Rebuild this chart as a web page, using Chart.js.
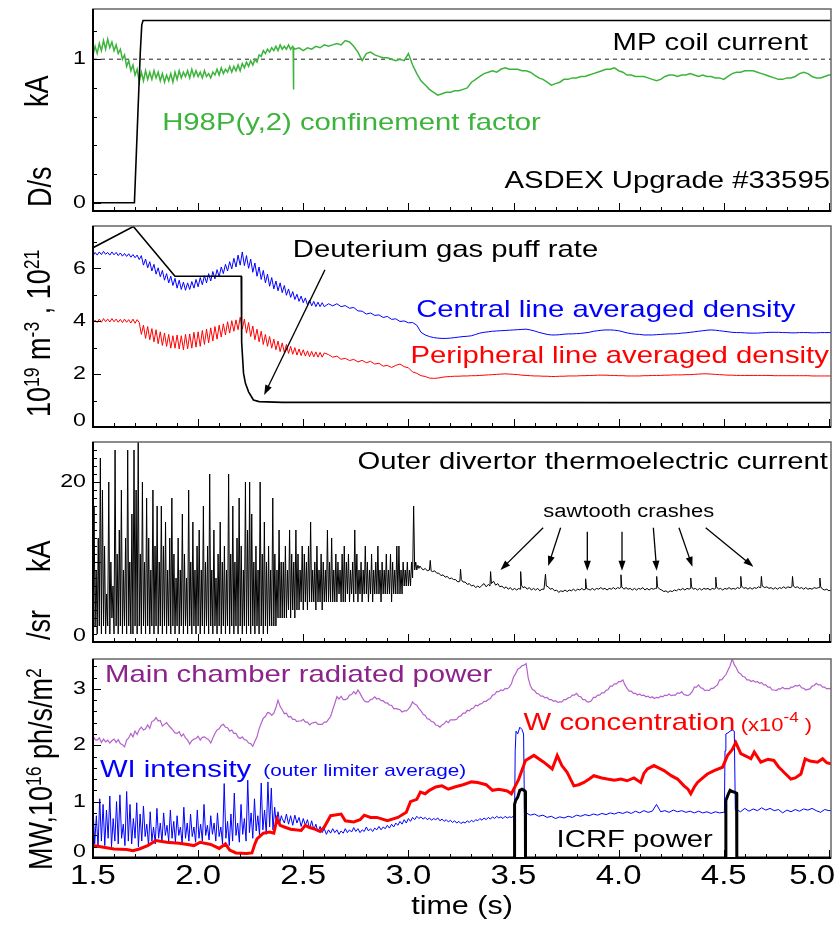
<!DOCTYPE html>
<html>
<head>
<meta charset="utf-8">
<script src="https://cdn.jsdelivr.net/npm/chart.js@4.4.0/dist/chart.umd.min.js"></script>
<style>
  body { margin: 0; background: #fff; width: 836px; height: 926px; position: relative; overflow: hidden;
         font-family: "Liberation Sans", Arial, sans-serif; }
  canvas { position: absolute; left: 0; }
  .yl { position: absolute; transform-origin: 0 0; transform: rotate(-90deg) scaleY(1.22);
        font-size: 27px; line-height: 27px; white-space: nowrap; color: #000; }
  .yl sup { font-size: 0.65em; position: relative; top: -0.5em; vertical-align: baseline; line-height: 0; }
</style>
</head>
<body>
<canvas id="p1"></canvas>
<canvas id="p2"></canvas>
<canvas id="p3"></canvas>
<canvas id="p4"></canvas>

<div class="yl" style="left:21px;top:107px">kA</div>
<div class="yl" style="left:24px;top:207px">D/s</div>
<div class="yl" style="left:23px;top:417px">10<sup>19</sup> m<sup>-3</sup> , 10<sup>21</sup></div>
<div class="yl" style="left:23px;top:572px">kA</div>
<div class="yl" style="left:23px;top:640px">/sr</div>
<div class="yl" style="left:25px;top:870px">MW,10<sup>16</sup> ph/s/m<sup>2</sup></div>

<script>
// ---- axis ticks ----
const xTickValues = [1.5, 2.0, 2.5, 3.0, 3.5, 4.0, 4.5, 5.0];
const xTickLabels = ['1.5', '2.0', '2.5', '3.0', '3.5', '4.0', '4.5', '5.0'];

// ---- panel 1: MP coil current (kA) and H98 ----
const coilT = [1.50, 1.697, 1.705, 1.715, 1.725, 1.732, 1.738, 5.01];
const coilV = [0.0, 0.0, 0.30, 0.68, 1.05, 1.24, 1.27, 1.27];
// H98 sampled every 0.01 s from 1.50 s
const h98Early = [
  1.03, 1.09, 1.04, 1.11, 1.06, 1.13, 1.07, 1.14, 1.08, 1.12,
  1.06, 1.10, 1.04, 1.07, 1.00, 1.03, 0.95, 0.99, 0.92, 0.96,
  0.89, 0.93, 0.84, 0.91, 0.85, 0.92, 0.86, 0.91, 0.86, 0.92,
  0.87, 0.91, 0.85, 0.90, 0.84, 0.89, 0.85, 0.90, 0.84, 0.91,
  0.86, 0.92, 0.87, 0.91, 0.88, 0.92, 0.87, 0.93, 0.88, 0.92,
  0.88, 0.91, 0.87, 0.92, 0.88, 0.90, 0.87, 0.91, 0.89, 0.93,
  0.89, 0.94, 0.90, 0.93, 0.91, 0.95, 0.91, 0.95, 0.92, 0.96,
  0.92, 0.97, 0.94, 0.98, 0.95, 0.99, 0.96, 1.00, 0.98, 1.03,
  1.02, 1.06, 1.04, 1.07, 1.05, 1.08, 1.06, 1.09, 1.06, 1.10,
  1.07, 1.09, 1.07, 1.10, 1.07, 1.09
];
const h98SpikeT = [2.452, 2.453, 2.455];
const h98SpikeV = [1.08, 0.79, 1.08];
// H98 sampled every 0.02 s from 2.46 s
const h98Late = [
  1.07, 1.08, 1.06, 1.08, 1.07, 1.09, 1.08, 1.10, 1.09, 1.10,
  1.11, 1.10, 1.13, 1.12, 1.09, 1.05, 0.99, 1.04, 1.05, 1.03,
  1.02, 1.01, 1.01, 1.00, 0.99, 1.00, 0.99, 1.04, 0.96, 0.90,
  0.85, 0.82, 0.79, 0.77, 0.75, 0.76, 0.77, 0.77, 0.78, 0.78,
  0.79, 0.80, 0.84, 0.86, 0.88, 0.90, 0.91, 0.92, 0.91, 0.93,
  0.94, 0.93, 0.93, 0.93, 0.92, 0.92, 0.91, 0.89, 0.87, 0.86,
  0.84, 0.82, 0.83, 0.84, 0.86, 0.86, 0.87, 0.87, 0.88, 0.88,
  0.89, 0.90, 0.91, 0.92, 0.93, 0.93, 0.94, 0.92, 0.91, 0.89,
  0.89, 0.88, 0.88, 0.88, 0.87, 0.86, 0.85, 0.86, 0.88, 0.89,
  0.89, 0.88, 0.89, 0.89, 0.90, 0.89, 0.88, 0.89, 0.88, 0.88,
  0.87, 0.87, 0.86, 0.88, 0.90, 0.91, 0.91, 0.92, 0.92, 0.92,
  0.91, 0.90, 0.89, 0.88, 0.87, 0.86, 0.86, 0.87, 0.87, 0.88,
  0.90, 0.91, 0.90, 0.88, 0.87, 0.87, 0.88, 0.89, 0.89
];

// ---- panel 2: gas puff (10^21 D/s) and densities (10^19 m^-3) ----
const gasT = [1.50, 1.692, 1.89, 2.205, 2.207, 2.216, 2.225, 2.24, 2.263, 2.29, 2.40, 3.00, 4.00, 5.01];
const gasV = [6.78, 7.58, 5.70, 5.70, 3.20, 2.03, 1.65, 1.33, 1.02, 0.96, 0.93, 0.93, 0.92, 0.92];
// central density, every 0.01 s from 1.50 s
const coreEarly = [
  6.48, 6.60, 6.50, 6.62, 6.52, 6.64, 6.53, 6.60, 6.50, 6.62,
  6.51, 6.60, 6.48, 6.58, 6.46, 6.56, 6.45, 6.55, 6.42, 6.52,
  6.40, 6.50, 6.33, 6.48, 6.12, 6.35, 6.02, 6.25, 5.90, 6.15,
  5.78, 6.02, 5.68, 5.92, 5.55, 5.80, 5.45, 5.70, 5.35, 5.62,
  5.25, 5.55, 5.20, 5.48, 5.17, 5.45, 5.20, 5.50, 5.25, 5.58,
  5.30, 5.65, 5.38, 5.72, 5.45, 5.80, 5.52, 5.88, 5.60, 5.95,
  5.68, 6.05, 5.80, 6.15, 5.90, 6.25, 5.98, 6.38, 6.05, 6.50,
  6.12, 6.62, 6.10, 6.48, 6.00, 6.35, 5.85, 6.20, 5.70, 6.05,
  5.58, 5.92, 5.45, 5.78, 5.32, 5.65, 5.22, 5.52, 5.15, 5.45,
  5.08, 5.35, 4.98, 5.22, 4.90, 5.12, 4.82, 5.02, 4.75, 4.95,
  4.70, 4.88, 4.62, 4.80, 4.58, 4.75, 4.55, 4.72, 4.55, 4.70,
  4.55
];
// central density, every 0.02 s from 2.62 s
const coreLate = [
  4.66, 4.58, 4.66, 4.55, 4.59, 4.49, 4.52, 4.39, 4.38, 4.27,
  4.31, 4.22, 4.24, 4.14, 4.18, 4.07, 4.09, 3.99, 4.01, 3.94,
  3.95, 3.85, 3.58, 3.48, 3.42, 3.38, 3.36, 3.35, 3.35, 3.36,
  3.38, 3.40, 3.42, 3.43, 3.45, 3.50, 3.55, 3.58, 3.60, 3.62,
  3.63, 3.64, 3.65, 3.66, 3.67, 3.68, 3.69, 3.70, 3.67, 3.63,
  3.58, 3.54, 3.50, 3.48, 3.48, 3.49, 3.51, 3.52, 3.52, 3.53,
  3.54, 3.56, 3.58, 3.62, 3.64, 3.66, 3.67, 3.67, 3.66, 3.64,
  3.60, 3.56, 3.53, 3.51, 3.50, 3.48, 3.48, 3.48, 3.49, 3.50,
  3.51, 3.52, 3.52, 3.53, 3.55, 3.56, 3.58, 3.60, 3.62, 3.64,
  3.66, 3.67, 3.66, 3.64, 3.62, 3.60, 3.58, 3.57, 3.57, 3.56,
  3.55, 3.55, 3.55, 3.56, 3.57, 3.58, 3.58, 3.58, 3.57, 3.57,
  3.56, 3.56, 3.57, 3.57, 3.57, 3.56, 3.56, 3.57, 3.57, 3.57,
  3.57
];
// peripheral density, every 0.01 s from 1.50 s
const edgeEarly = [
  3.92, 4.04, 3.95, 4.08, 3.96, 4.10, 3.98, 4.08, 3.97, 4.10,
  3.98, 4.08, 3.96, 4.07, 3.95, 4.08, 3.96, 4.06, 3.93, 4.08,
  3.92, 4.06, 3.95, 3.50, 3.85, 3.35, 3.80, 3.30, 3.72, 3.22,
  3.68, 3.15, 3.60, 3.08, 3.55, 3.05, 3.50, 2.98, 3.45, 2.98,
  3.48, 2.95, 3.45, 2.92, 3.50, 2.95, 3.52, 2.98, 3.58, 3.02,
  3.60, 3.05, 3.65, 3.12, 3.70, 3.18, 3.75, 3.25, 3.80, 3.32,
  3.85, 3.40, 3.90, 3.48, 3.98, 3.55, 4.02, 3.62, 4.05, 3.68,
  4.15, 3.70, 4.08, 3.55, 3.95, 3.42, 3.82, 3.30, 3.70, 3.22,
  3.62, 3.12, 3.50, 3.05, 3.42, 2.98, 3.32, 2.92, 3.25, 2.85,
  3.18, 2.82, 3.12, 2.78, 3.05, 2.75, 3.00, 2.72, 2.95, 2.70,
  2.92, 2.68, 2.88, 2.66, 2.86, 2.65, 2.84, 2.64, 2.82, 2.64,
  2.80
];
// peripheral density, every 0.02 s from 2.62 s
const edgeLate = [
  2.74, 2.64, 2.68, 2.56, 2.60, 2.51, 2.56, 2.46, 2.52, 2.43,
  2.48, 2.38, 2.41, 2.30, 2.33, 2.25, 2.33, 2.38, 2.28, 2.24,
  2.08, 2.03, 1.94, 1.91, 1.85, 1.84, 1.85, 1.88, 1.90, 1.91,
  1.92, 1.92, 1.93, 1.93, 1.94, 1.94, 1.95, 1.96, 1.97, 1.98,
  1.99, 2.00, 2.01, 2.00, 1.99, 1.98, 1.96, 1.95, 1.94, 1.93,
  1.93, 1.92, 1.92, 1.91, 1.91, 1.92, 1.92, 1.93, 1.93, 1.93,
  1.94, 1.94, 1.95, 1.95, 1.96, 1.96, 1.96, 1.95, 1.95, 1.94,
  1.94, 1.93, 1.93, 1.93, 1.93, 1.94, 1.94, 1.95, 1.95, 1.95,
  1.96, 1.96, 1.97, 1.97, 1.97, 1.98, 1.98, 1.99, 2.00, 2.01,
  2.01, 2.00, 1.99, 1.98, 1.97, 1.96, 1.96, 1.95, 1.95, 1.95,
  1.95, 1.95, 1.95, 1.95, 1.95, 1.95, 1.94, 1.94, 1.94, 1.94,
  1.94, 1.94, 1.94, 1.94, 1.94, 1.93, 1.93, 1.93, 1.93, 1.93,
  1.93
];

// ---- panel 3: outer divertor thermoelectric current (kA) ----
// every 0.005 s from 1.500 s to 3.040 s
const thermoEarly = [
  3, 17, 2, 9, 1, 13, 2, 23, 1, 19,
  2, 12, 1, 6, 2, 20, 1, 10, 3, 7,
  1, 24, 2, 11, 1, 14, 2, 19, 1, 9,
  2, 13, 1, 24, 2, 10, 1, 16, 1, 24,
  2, 19, 1, 25, 2, 11, 1, 20, 2, 10,
  1, 18, 2, 13, 1, 9, 2, 19, 1, 12,
  2, 17, 1, 10, 2, 17, 1, 12, 2, 15,
  1, 9, 2, 13, 1, 18, 2, 11, 1, 8,
  2, 13, 1, 9, 2, 16, 1, 11, 2, 8,
  1, 19, 2, 10, 1, 15, 2, 9, 1, 12,
  2, 14, 1, 9, 2, 17, 1, 10, 2, 12,
  1, 21, 2, 9, 1, 14, 2, 8, 1, 11,
  2, 15, 1, 10, 2, 12, 1, 9, 2, 21,
  1, 11, 2, 17, 1, 10, 2, 13, 1, 18,
  2, 12, 1, 9, 2, 20, 1, 14, 2, 20,
  1, 16, 2, 10, 1, 12, 2, 9, 1, 20,
  2, 11, 1, 15, 2, 10, 1, 12, 2, 9,
  2, 18, 2, 11, 2, 9, 3, 14, 3, 10,
  3, 10, 3, 12, 3, 9, 4, 14, 3, 11,
  4, 10, 3, 14, 4, 11, 4, 9, 5, 12,
  4, 11, 5, 10, 4, 12, 5, 15, 5, 9,
  5, 10, 4, 12, 5, 9, 5, 11, 4, 10,
  5, 9, 5, 14, 5, 10, 5, 13, 5, 9,
  5, 11, 5, 10, 6, 9, 5, 11, 5, 12,
  5, 10, 6, 11, 5, 9, 6, 10, 5, 14,
  6, 11, 5, 9, 6, 10, 5, 9, 6, 12,
  6, 10, 5, 9, 6, 11, 5, 9, 6, 10,
  6, 12, 6, 9, 5, 10, 6, 9, 6, 11,
  6, 9, 6, 11, 5, 10, 6, 9, 6, 12,
  6, 12, 6, 9, 6, 10, 7, 9, 7, 10,
  7, 9, 7, 10, 8, 17, 9, 10, 9
];
const thermoLateT = [
  3.045, 3.05, 3.055, 3.06, 3.07, 3.08, 3.09, 3.10, 3.104, 3.108, 3.115, 3.125, 3.135, 3.145, 3.155,
  3.165, 3.175, 3.185, 3.195, 3.205, 3.215, 3.225, 3.235, 3.245, 3.248, 3.252, 3.26, 3.27, 3.28, 3.29,
  3.30, 3.31, 3.32, 3.33, 3.34, 3.35, 3.36, 3.37, 3.38, 3.388, 3.391, 3.395, 3.405, 3.415, 3.425,
  3.435, 3.445, 3.455, 3.465, 3.475, 3.485, 3.495, 3.505, 3.515, 3.525, 3.531, 3.534, 3.538, 3.545, 3.555,
  3.565, 3.575, 3.585, 3.595, 3.605, 3.615, 3.625, 3.635, 3.645, 3.652, 3.656, 3.665, 3.675, 3.685, 3.695,
  3.705, 3.715, 3.725, 3.735, 3.745, 3.755, 3.765, 3.775, 3.785, 3.795, 3.805, 3.815, 3.825, 3.835, 3.841,
  3.843, 3.847, 3.855, 3.865, 3.875, 3.885, 3.895, 3.905, 3.915, 3.925, 3.935, 3.945, 3.955, 3.965, 3.975,
  3.985, 3.995, 4.005, 4.008, 4.011, 4.015, 4.025, 4.035, 4.045, 4.055, 4.065, 4.075, 4.085, 4.095, 4.105,
  4.115, 4.125, 4.135, 4.145, 4.155, 4.165, 4.175, 4.178, 4.181, 4.185, 4.195, 4.205, 4.215, 4.225, 4.235,
  4.245, 4.255, 4.265, 4.275, 4.285, 4.295, 4.305, 4.315, 4.325, 4.335, 4.34, 4.343, 4.347, 4.355, 4.365,
  4.375, 4.385, 4.395, 4.405, 4.415, 4.425, 4.435, 4.445, 4.455, 4.459, 4.462, 4.466, 4.475, 4.485, 4.495,
  4.505, 4.515, 4.525, 4.535, 4.545, 4.555, 4.565, 4.575, 4.578, 4.581, 4.585, 4.595, 4.605, 4.615, 4.625,
  4.635, 4.645, 4.655, 4.665, 4.673, 4.676, 4.679, 4.683, 4.695, 4.705, 4.715, 4.725, 4.735, 4.745, 4.755,
  4.765, 4.775, 4.785, 4.795, 4.805, 4.815, 4.824, 4.827, 4.831, 4.84, 4.85, 4.86, 4.87, 4.88, 4.89,
  4.90, 4.91, 4.92, 4.93, 4.94, 4.95, 4.954, 4.957, 4.961, 4.97, 4.98, 4.99, 5.00, 5.01
];
const thermoLateV = [
  9.6, 9.2, 9.5, 9.3, 9.0, 9.2, 8.9, 9.0, 10.2, 8.9, 8.8, 8.9, 8.6, 8.6, 8.3,
  8.4, 8.1, 8.2, 7.9, 8.0, 7.8, 7.8, 7.5, 7.6, 9.1, 7.8, 7.5, 7.5, 7.2, 7.3,
  7.0, 7.1, 6.8, 7.0, 6.8, 7.1, 7.3, 6.9, 7.2, 7.0, 8.8, 7.3, 7.6, 7.1, 7.3,
  6.9, 7.0, 6.7, 6.9, 6.6, 6.8, 6.5, 6.7, 6.5, 6.7, 6.6, 8.8, 7.1, 6.8, 6.9,
  6.6, 6.8, 6.5, 6.7, 6.5, 6.7, 6.4, 6.6, 6.6, 8.5, 7.0, 6.9, 6.6, 6.7, 6.4,
  6.5, 6.2, 6.4, 6.3, 6.5, 6.3, 6.5, 6.4, 6.6, 6.4, 6.6, 6.5, 6.7, 6.5, 6.6,
  7.9, 6.7, 6.6, 6.5, 6.7, 6.5, 6.7, 6.6, 6.8, 6.6, 6.7, 6.5, 6.7, 6.6, 6.8,
  6.6, 6.8, 6.7, 6.8, 8.4, 6.9, 6.6, 6.8, 6.6, 6.7, 6.5, 6.7, 6.5, 6.7, 6.6,
  6.8, 6.5, 6.7, 6.5, 6.7, 6.6, 6.7, 6.7, 8.2, 6.9, 6.6, 6.5, 6.3, 6.4, 6.2,
  6.4, 6.3, 6.5, 6.4, 6.6, 6.5, 6.7, 6.5, 6.7, 6.6, 6.7, 8.0, 6.9, 6.6, 6.7,
  6.5, 6.7, 6.5, 6.7, 6.6, 6.7, 6.5, 6.7, 6.6, 6.7, 8.1, 6.9, 6.6, 6.7, 6.5,
  6.7, 6.6, 6.8, 6.6, 6.7, 6.6, 6.8, 6.7, 6.8, 8.2, 7.0, 6.7, 6.8, 6.6, 6.8,
  6.6, 6.8, 6.7, 6.9, 6.8, 6.9, 8.2, 7.0, 6.8, 6.9, 6.7, 6.8, 6.6, 6.8, 6.6,
  6.8, 6.7, 6.9, 6.7, 6.9, 6.8, 6.9, 8.2, 7.0, 6.8, 6.9, 6.7, 6.8, 6.6, 6.8,
  6.6, 6.7, 6.6, 6.8, 6.7, 6.8, 6.8, 8.0, 6.9, 6.6, 6.5, 6.6, 6.4, 6.5
];

// ---- panel 4: radiation (MW), WI (10^16 ph/s/m^2/sr), W conc. (1e-4), ICRF (MW) ----
// main chamber radiated power, every 0.01 s from 1.50 s
const pradV = [
  2.17, 2.10, 2.09, 2.13, 2.05, 2.11, 2.06, 2.09, 2.04, 2.08,
  2.11, 2.05, 2.10, 2.03, 2.01, 1.97, 2.09, 2.13, 2.21, 2.15,
  2.25, 2.19, 2.28, 2.32, 2.27, 2.29, 2.36, 2.30, 2.42, 2.44,
  2.49, 2.43, 2.44, 2.34, 2.37, 2.40, 2.35, 2.31, 2.27, 2.22,
  2.21, 2.24, 2.16, 2.20, 2.13, 2.09, 2.02, 2.08, 2.11, 2.12,
  2.16, 2.09, 2.14, 2.15, 2.12, 2.10, 2.04, 2.13, 2.21, 2.27,
  2.29, 2.35, 2.37, 2.32, 2.31, 2.25, 2.27, 2.21, 2.21, 2.14,
  2.12, 2.15, 2.10, 2.09, 2.04, 2.03, 1.98, 2.07, 2.15, 2.29,
  2.39, 2.48, 2.51, 2.58, 2.57, 2.53, 2.57, 2.67, 2.80, 2.69,
  2.63, 2.56, 2.57, 2.50, 2.51, 2.46, 2.46, 2.42, 2.43, 2.43,
  2.46, 2.41, 2.41, 2.36, 2.39, 2.40, 2.41, 2.37, 2.37, 2.37,
  2.41, 2.41, 2.46, 2.51, 2.63, 2.74, 2.86, 2.82, 2.87, 2.81,
  2.81, 2.83, 2.89, 2.90, 2.95, 2.91, 2.98, 2.92, 2.85, 2.79,
  2.77, 2.77, 2.81, 2.82, 2.86, 2.82, 2.83, 2.79, 2.79, 2.75,
  2.75, 2.71, 2.71, 2.65, 2.65, 2.64, 2.63, 2.59, 2.61, 2.61,
  2.64, 2.69, 2.77, 2.73, 2.71, 2.65, 2.61, 2.55, 2.53, 2.47,
  2.46, 2.42, 2.41, 2.36, 2.35, 2.32, 2.36, 2.38, 2.43, 2.40,
  2.45, 2.45, 2.45, 2.46, 2.51, 2.52, 2.57, 2.57, 2.62, 2.61,
  2.65, 2.66, 2.71, 2.70, 2.73, 2.74, 2.78, 2.78, 2.81, 2.83,
  2.89, 2.90, 2.95, 2.95, 2.98, 2.97, 3.01, 3.00, 3.03, 3.09,
  3.21, 3.27, 3.35, 3.37, 3.41, 3.42, 3.45, 3.19, 3.06, 2.99,
  2.97, 2.92, 2.91, 2.87, 2.87, 2.84, 2.85, 2.81, 2.81, 2.78,
  2.79, 2.76, 2.77, 2.77, 2.81, 2.81, 2.84, 2.85, 2.89, 2.89,
  2.92, 2.87, 2.86, 2.81, 2.81, 2.77, 2.77, 2.79, 2.85, 2.85,
  2.89, 2.89, 2.93, 2.93, 2.97, 2.99, 3.05, 3.05, 3.09, 3.09,
  3.13, 3.13, 3.16, 3.07, 3.01, 2.96, 2.96, 2.92, 2.92, 2.89,
  2.91, 2.88, 2.89, 2.86, 2.87, 2.84, 2.86, 2.83, 2.85, 2.84,
  2.87, 2.86, 2.89, 2.88, 2.91, 2.88, 2.89, 2.89, 2.93, 2.92,
  2.95, 2.90, 2.89, 2.88, 2.91, 2.95, 3.03, 3.03, 3.07, 3.02,
  3.01, 2.97, 2.98, 2.97, 3.01, 3.01, 3.04, 3.07, 3.16, 3.16,
  3.21, 3.25, 3.33, 3.41, 3.53, 3.43, 3.37, 3.29, 3.27, 3.22,
  3.21, 3.16, 3.16, 3.13, 3.15, 3.12, 3.13, 3.10, 3.11, 3.07,
  3.07, 3.03, 3.03, 2.98, 2.98, 2.97, 3.00, 3.00, 3.03, 3.00,
  3.01, 3.00, 3.03, 3.03, 3.06, 3.05, 3.07, 3.02, 3.01, 2.98,
  2.99, 3.00, 3.05, 3.06, 3.10, 3.07, 3.07, 3.03, 3.03, 3.00,
  3.01, 3.00, 3.02
];
// WI intensity, every 0.008 s from 1.500 s
const wiEarly = [
  0.90, 0.25, 0.75, 0.18, 1.05, 0.30, 0.95, 0.22, 0.85, 0.35,
  1.10, 0.20, 0.70, 0.30, 1.00, 0.25, 1.12, 0.35, 0.60, 0.22,
  1.18, 0.30, 0.95, 0.25, 0.70, 0.35, 0.98, 0.20, 0.78, 0.30,
  0.92, 0.38, 0.60, 0.22, 0.82, 0.30, 0.55, 0.25, 0.88, 0.35,
  0.62, 0.28, 0.80, 0.40, 0.58, 0.30, 0.85, 0.35, 0.65, 0.28,
  0.75, 0.40, 0.55, 0.25, 0.90, 0.35, 0.62, 0.30, 0.78, 0.38,
  0.55, 0.28, 0.85, 0.35, 0.60, 0.30, 0.95, 0.40, 0.58, 0.32,
  0.75, 0.42, 0.62, 0.30, 0.80, 0.38, 0.55, 0.25, 1.32, 0.35,
  0.65, 0.22, 0.78, 0.30, 1.15, 0.40, 0.62, 0.28, 0.95, 0.42,
  0.70, 0.30, 1.38, 0.45, 0.80, 0.35, 1.05, 0.48, 0.75, 0.40,
  1.33, 0.50, 0.85, 0.42, 1.35, 0.55, 1.24, 0.50, 0.90, 0.60,
  0.82, 0.62, 0.75
];
// WI intensity, every 0.01 s from 2.40 s
const wiMid = [
  0.70, 0.62, 0.78, 0.60, 0.75, 0.58, 0.76, 0.62, 0.72, 0.56,
  0.70, 0.58, 0.68, 0.52, 0.66, 0.50, 0.60, 0.46, 0.56, 0.45,
  0.52, 0.42, 0.50, 0.44, 0.52, 0.45, 0.50, 0.42, 0.48, 0.44,
  0.52, 0.45, 0.50, 0.46, 0.54, 0.47, 0.52, 0.45, 0.50, 0.47,
  0.55, 0.48, 0.52, 0.47, 0.53, 0.50, 0.56, 0.50, 0.55, 0.52,
  0.58, 0.53, 0.60, 0.55, 0.62, 0.58, 0.65, 0.60, 0.68, 0.62,
  0.70, 0.65, 0.72, 0.68, 0.74, 0.70, 0.73, 0.69, 0.72, 0.68,
  0.71, 0.67, 0.70, 0.68, 0.71, 0.66, 0.69, 0.65, 0.68, 0.64,
  0.67, 0.63, 0.66, 0.62, 0.65, 0.61, 0.64, 0.62, 0.66, 0.63,
  0.67, 0.64, 0.68, 0.66, 0.70, 0.67, 0.71, 0.68, 0.72, 0.69,
  0.73, 0.70, 0.74, 0.71, 0.73, 0.70, 0.74, 0.71, 0.73, 0.72,
  0.74
];
const wiPulse1T = [3.505, 3.508, 3.512, 3.52, 3.53, 3.54, 3.548, 3.552];
const wiPulse1V = [0.75, 1.90, 2.25, 2.20, 2.32, 2.28, 2.20, 0.80];
// WI intensity, every 0.02 s from 3.56 s
const wiLate1 = [
  0.80, 0.76, 0.78, 0.74, 0.76, 0.72, 0.74, 0.70, 0.73, 0.71,
  0.74, 0.72, 0.76, 0.74, 0.77, 0.75, 0.78, 0.76, 0.79, 0.77,
  0.80, 0.78, 0.81, 0.79, 0.82, 0.79, 0.83, 0.80, 0.84, 0.81,
  0.83, 0.95, 0.82, 0.84, 0.81, 0.85, 0.82, 0.84, 0.81, 0.83,
  0.80, 0.83, 0.80, 0.82, 0.79, 0.82, 0.80, 0.81
];
const wiPulse2T = [4.503, 4.506, 4.51, 4.52, 4.53, 4.54, 4.55, 4.555];
const wiPulse2V = [0.80, 1.90, 2.20, 2.22, 2.25, 2.27, 2.25, 0.85];
// WI intensity, every 0.02 s from 4.56 s
const wiLate2 = [
  0.86, 0.82, 0.88, 0.83, 0.87, 0.84, 0.89, 0.85, 0.88, 0.84,
  0.86, 0.80, 0.85, 0.82, 0.86, 0.83, 0.87, 0.85, 0.88, 0.84,
  0.81, 0.86, 0.84, 0.85
];
const wConcT = [
  1.50, 1.55, 1.60, 1.66, 1.69, 1.72, 1.76, 1.80, 1.85, 1.91, 1.95, 1.98, 2.01, 2.06, 2.10,
  2.13, 2.15, 2.18, 2.23, 2.256, 2.27, 2.28, 2.31, 2.34, 2.36, 2.375, 2.39, 2.41, 2.44, 2.49,
  2.51, 2.53, 2.55, 2.58, 2.60, 2.63, 2.68, 2.70, 2.74, 2.77, 2.79, 2.82, 2.85, 2.90, 2.95,
  2.99, 3.01, 3.04, 3.057, 3.08, 3.10, 3.13, 3.16, 3.19, 3.22, 3.26, 3.30, 3.33, 3.37, 3.40,
  3.43, 3.47, 3.49, 3.525, 3.557, 3.597, 3.644, 3.684, 3.708, 3.73, 3.755, 3.787, 3.81, 3.835, 3.86,
  3.882, 3.92, 3.946, 3.98, 4.01, 4.04, 4.073, 4.105, 4.12, 4.137, 4.168, 4.19, 4.216, 4.25, 4.28,
  4.311, 4.33, 4.343, 4.36, 4.375, 4.40, 4.422, 4.454, 4.494, 4.518, 4.54, 4.557, 4.581, 4.61, 4.629,
  4.645, 4.676, 4.71, 4.738, 4.76, 4.786, 4.819, 4.84, 4.867, 4.887, 4.91, 4.946, 4.97, 4.99, 5.01
];
const wConcV = [
  0.22, 0.19, 0.16, 0.15, 0.13, 0.16, 0.22, 0.31, 0.28, 0.26, 0.24, 0.22, 0.28, 0.24, 0.17,
  0.25, 0.14, 0.09, 0.08, 0.09, 0.25, 0.34, 0.44, 0.46, 0.44, 0.69, 0.58, 0.55, 0.51, 0.49,
  0.58, 0.54, 0.52, 0.47, 0.55, 0.75, 0.78, 0.66, 0.64, 0.68, 0.76, 0.72, 0.72, 0.66, 0.72,
  0.81, 1.00, 1.04, 1.17, 1.14, 1.20, 1.26, 1.28, 1.22, 1.26, 1.30, 1.35, 1.34, 1.30, 1.20,
  1.22, 1.19, 1.14, 1.40, 1.73, 1.82, 1.70, 1.58, 1.82, 1.64, 1.52, 1.28, 1.30, 1.34, 1.40,
  1.46, 1.42, 1.40, 1.38, 1.40, 1.37, 1.42, 1.34, 1.50, 1.58, 1.64, 1.60, 1.55, 1.46, 1.40,
  1.28, 1.22, 1.14, 1.26, 1.34, 1.42, 1.49, 1.55, 1.61, 1.82, 1.92, 2.05, 1.85, 1.80, 1.76,
  1.88, 1.70, 1.75, 1.73, 1.62, 1.52, 1.40, 1.42, 1.49, 1.76, 1.72, 1.70, 1.76, 1.69, 1.67
];
const icrfT = [1.50, 3.504, 3.505, 3.51, 3.52, 3.53, 3.54, 3.55, 3.556, 3.557, 4.509, 4.51, 4.52, 4.53, 4.54, 4.55, 4.561, 4.562, 5.01];
const icrfV = [0, 0, 0.95, 1.02, 1.08, 1.20, 1.22, 1.20, 1.18, 0, 0, 1.02, 1.12, 1.20, 1.18, 1.17, 1.15, 0, 0];

// ---- helpers ----
const FAM = '"Liberation Sans", Arial, sans-serif';
const S = 1.22; // lettering in the reference is stretched horizontally
const GREEN = '#3cb43c';

function uniform(t0, dt, vals) {
  return vals.map((v, i) => ({ x: +(t0 + i * dt).toFixed(4), y: v }));
}
function paired(ts, vs) {
  return ts.map((t, i) => ({ x: t, y: vs[i] }));
}
function line(data, color, width) {
  return { data, borderColor: color, borderWidth: width, pointRadius: 0, fill: false, tension: 0 };
}

function stretchText(ctx, str, x, y, align) {
  ctx.save();
  ctx.translate(x, y);
  ctx.scale(S, 1);
  ctx.textAlign = align || 'left';
  ctx.fillText(str, 0, 0);
  ctx.restore();
}

function drawRuns(ctx, runs, x, y, align) {
  let total = 0;
  runs.forEach(r => { ctx.font = r.size + 'px ' + FAM; total += ctx.measureText(r.s).width * S; });
  let cx = align === 'right' ? x - total : align === 'center' ? x - total / 2 : x;
  runs.forEach(r => {
    ctx.font = r.size + 'px ' + FAM;
    ctx.fillStyle = r.color;
    stretchText(ctx, r.s, cx, y + (r.dy || 0), 'left');
    cx += ctx.measureText(r.s).width * S;
  });
}

function arrow(ctx, x1, y1, x2, y2) {
  const a = Math.atan2(y2 - y1, x2 - x1), L = 10, W = 3.5;
  ctx.beginPath();
  ctx.moveTo(x1, y1);
  ctx.lineTo(x2 - Math.cos(a) * L * 0.8, y2 - Math.sin(a) * L * 0.8);
  ctx.stroke();
  ctx.beginPath();
  ctx.moveTo(x2, y2);
  ctx.lineTo(x2 - L * Math.cos(a) + W * Math.sin(a), y2 - L * Math.sin(a) - W * Math.cos(a));
  ctx.lineTo(x2 - L * Math.cos(a) - W * Math.sin(a), y2 - L * Math.sin(a) + W * Math.cos(a));
  ctx.closePath();
  ctx.fill();
}

// IDL style frame: inward ticks, own labels, annotations in data coordinates
const idlFrame = {
  id: 'idlFrame',
  beforeDatasetsDraw(chart, args, o) {
    const { ctx, chartArea: a } = chart;
    const ys = chart.scales.y;
    ctx.save();
    (o.hlines || []).forEach(h => {
      const py = ys.getPixelForValue(h.v);
      ctx.setLineDash([4, 4]);
      ctx.strokeStyle = '#555';
      ctx.lineWidth = 1.3;
      ctx.beginPath(); ctx.moveTo(a.left, py); ctx.lineTo(a.right, py); ctx.stroke();
    });
    ctx.restore();
  },
  afterDatasetsDraw(chart, args, o) {
    const { ctx, chartArea: a } = chart;
    const xs = chart.scales.x, ys = chart.scales.y;
    ctx.save();

    // frame
    ctx.strokeStyle = '#666'; ctx.lineWidth = 1.5;
    ctx.strokeRect(a.left, a.top, a.right - a.left, a.bottom - a.top);
    ctx.strokeStyle = '#000'; ctx.lineWidth = 2;
    ctx.beginPath(); ctx.moveTo(a.left, a.top); ctx.lineTo(a.left, a.bottom); ctx.lineTo(a.right, a.bottom); ctx.stroke();

    // ticks
    ctx.lineWidth = 1;
    for (let k = 15; k <= 50; k++) {
      const px = Math.round(xs.getPixelForValue(k / 10)) + 0.5;
      const len = k % 5 === 0 ? 8 : 4;
      ctx.beginPath(); ctx.moveTo(px, a.bottom); ctx.lineTo(px, a.bottom - len); ctx.stroke();
    }
    o.yMinor.forEach(v => {
      const py = Math.round(ys.getPixelForValue(v)) + 0.5;
      ctx.beginPath(); ctx.moveTo(a.left, py); ctx.lineTo(a.left + 4, py); ctx.stroke();
    });
    o.yMajor.forEach(v => {
      const py = Math.round(ys.getPixelForValue(v)) + 0.5;
      ctx.beginPath(); ctx.moveTo(a.left, py); ctx.lineTo(a.left + 8, py); ctx.stroke();
    });

    // y labels
    ctx.fillStyle = '#000';
    ctx.textBaseline = 'middle';
    ctx.font = '19px ' + FAM;
    o.yLabels.forEach((v, i) => {
      const py = Math.min(ys.getPixelForValue(v), a.bottom - 6);
      stretchText(ctx, o.yLabelText[i], a.left - 7, py, 'right');
    });

    // x labels (bottom panel only)
    if (o.xLabels) {
      ctx.font = '27px ' + FAM;
      xTickValues.forEach((v, i) => {
        const w = ctx.measureText(xTickLabels[i]).width * S;
        const px = Math.min(xs.getPixelForValue(v), chart.width - w / 2 - 1);
        stretchText(ctx, xTickLabels[i], px, a.bottom + 19, 'center');
      });
      ctx.font = '25px ' + FAM;
      stretchText(ctx, 'time (s)', (a.left + a.right) / 2, a.bottom + 49, 'center');
    }

    // annotations
    (o.texts || []).forEach(t => {
      drawRuns(ctx, t.runs, xs.getPixelForValue(t.t), ys.getPixelForValue(t.v), t.align);
    });
    ctx.strokeStyle = '#000'; ctx.fillStyle = '#000'; ctx.lineWidth = 1.3;
    (o.arrows || []).forEach(r => {
      arrow(ctx, xs.getPixelForValue(r[0]), ys.getPixelForValue(r[1]),
                 xs.getPixelForValue(r[2]), ys.getPixelForValue(r[3]));
    });
    ctx.restore();
  }
};

function panel(id, top, bottom, extra, yMin, yMax, datasets, frame) {
  const cv = document.getElementById(id);
  const h = bottom - top + 12 + extra;
  cv.width = 836; cv.height = h;
  cv.style.top = (top - 6) + 'px';
  cv.style.width = '836px'; cv.style.height = h + 'px';
  return new Chart(cv, {
    type: 'line',
    data: { datasets },
    options: {
      responsive: false,
      animation: false,
      devicePixelRatio: 1,
      layout: { padding: { left: 93, right: 5, top: 6, bottom: 6 + extra } },
      plugins: { legend: { display: false }, tooltip: { enabled: false }, idlFrame: frame },
      scales: {
        x: { type: 'linear', min: 1.5, max: 5.01, display: false },
        y: { type: 'linear', min: yMin, max: yMax, display: false }
      }
    },
    plugins: [idlFrame]
  });
}

// ---- panel 1 ----
panel('p1', 9, 211, 0, -0.057, 1.35, [
  line(paired(coilT, coilV), '#000', 1.6),
  line(uniform(1.50, 0.01, h98Early).concat(paired(h98SpikeT, h98SpikeV), uniform(2.46, 0.02, h98Late)), GREEN, 1.5)
], {
  yMajor: [0, 1], yMinor: [0.2, 0.4, 0.6, 0.8, 1.2],
  yLabels: [0, 1], yLabelText: ['0', '1'],
  hlines: [{ v: 1 }],
  texts: [
    { t: 3.971, v: 1.111, runs: [{ s: 'MP coil current', size: 24, color: '#000' }] },
    { t: 1.829, v: 0.556, runs: [{ s: 'H98P(y,2) confinement factor', size: 24, color: GREEN }] },
    { t: 5.005, v: 0.147, align: 'right', runs: [{ s: 'ASDEX Upgrade #33595', size: 24, color: '#000' }] }
  ]
});

// ---- panel 2 ----
panel('p2', 226, 427, 0, 0, 7.6, [
  line(paired(gasT, gasV), '#000', 1.6),
  line(uniform(1.50, 0.01, coreEarly).concat(uniform(2.62, 0.02, coreLate)), '#0000ff', 1),
  line(uniform(1.50, 0.01, edgeEarly).concat(uniform(2.62, 0.02, edgeLate)), '#ff0000', 1)
], {
  yMajor: [0, 2, 4, 6], yMinor: [1, 3, 5, 7],
  yLabels: [0, 2, 4, 6], yLabelText: ['0', '2', '4', '6'],
  texts: [
    { t: 2.45, v: 6.69, runs: [{ s: 'Deuterium gas puff rate', size: 24, color: '#000' }] },
    { t: 3.037, v: 4.42, runs: [{ s: 'Central line averaged density', size: 24, color: '#0000ff' }] },
    { t: 3.01, v: 2.66, runs: [{ s: 'Peripheral line averaged density', size: 24, color: '#ff0000' }] }
  ],
  arrows: [[2.603, 5.94, 2.314, 1.21]]
});

// ---- panel 3 ----
panel('p3', 442, 642, 0, 0, 25, [
  line(uniform(1.50, 0.005, thermoEarly).concat(paired(thermoLateT, thermoLateV)), '#000', 1)
], {
  yMajor: [0, 10, 20],
  yMinor: [1, 2, 3, 4, 5, 6, 7, 8, 9, 11, 12, 13, 14, 15, 16, 17, 18, 19, 21, 22, 23, 24],
  yLabels: [0, 20], yLabelText: ['0', '20'],
  texts: [
    { t: 4.995, v: 22.4, align: 'right', runs: [{ s: 'Outer divertor thermoelectric current', size: 24, color: '#000' }] },
    { t: 4.048, v: 16.3, align: 'center', runs: [{ s: 'sawtooth crashes', size: 18, color: '#000' }] }
  ],
  arrows: [
    [3.641, 14.29, 3.438, 9.0],
    [3.724, 14.29, 3.665, 9.5],
    [3.851, 13.79, 3.851, 8.91],
    [4.016, 13.79, 4.016, 8.91],
    [4.165, 14.29, 4.181, 8.91],
    [4.287, 14.29, 4.351, 9.41],
    [4.414, 14.29, 4.641, 9.41]
  ]
});

// ---- panel 4 ----
const wiData = uniform(1.50, 0.008, wiEarly).concat(
  uniform(2.40, 0.01, wiMid), paired(wiPulse1T, wiPulse1V),
  uniform(3.56, 0.02, wiLate1), paired(wiPulse2T, wiPulse2V),
  uniform(4.56, 0.02, wiLate2));
panel('p4', 659, 858, 68, 0, 3.53, [
  line(paired(icrfT, icrfV), '#000', 3),
  line(paired(wConcT, wConcV), '#ff0000', 3),
  line(wiData, '#0000ff', 1),
  line(uniform(1.50, 0.01, pradV), '#b462cc', 1.2)
], {
  yMajor: [0, 1, 2, 3],
  yMinor: [0.2, 0.4, 0.6, 0.8, 1.2, 1.4, 1.6, 1.8, 2.2, 2.4, 2.6, 2.8, 3.2, 3.4],
  yLabels: [0, 1, 2, 3], yLabelText: ['0', '1', '2', '3'],
  xLabels: true,
  texts: [
    { t: 1.557, v: 3.245, runs: [{ s: 'Main chamber radiated power', size: 24, color: '#8b238b' }] },
    { t: 1.533, v: 1.56, runs: [{ s: 'WI intensity', size: 24, color: '#0000ff' }] },
    { t: 2.31, v: 1.54, runs: [{ s: '(outer limiter average)', size: 17, color: '#0000ff' }] },
    { t: 3.548, v: 2.39, runs: [{ s: 'W concentration', size: 24, color: '#ff0000' }] },
    { t: 4.581, v: 2.34, runs: [
      { s: '(x10', size: 18, color: '#ff0000' },
      { s: '-4', size: 14, color: '#ff0000', dy: -8 },
      { s: ' )', size: 18, color: '#ff0000' }
    ] },
    { t: 3.705, v: 0.32, runs: [{ s: 'ICRF power', size: 24, color: '#000' }] }
  ]
});
</script>
</body>
</html>
